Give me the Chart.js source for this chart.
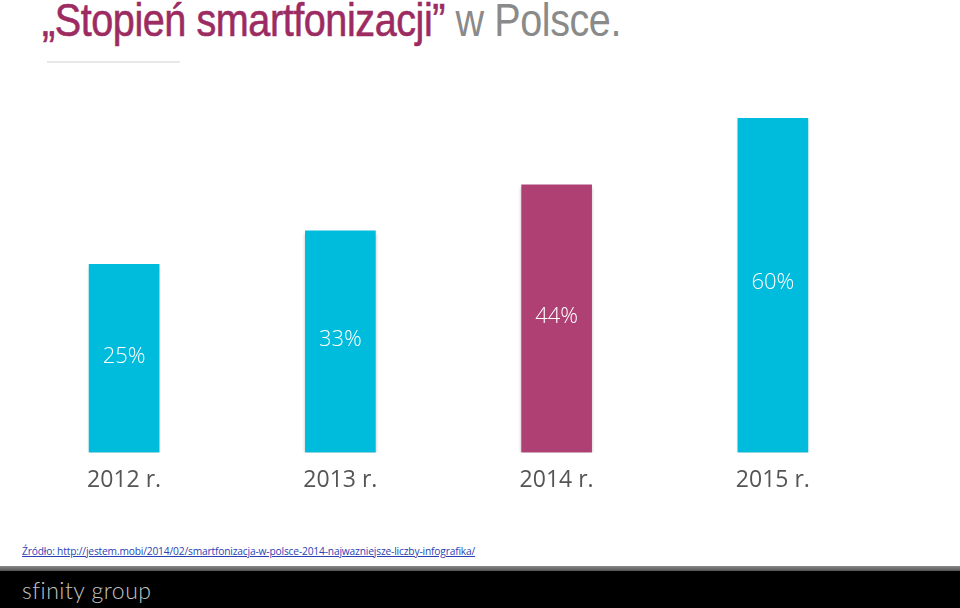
<!DOCTYPE html>
<html lang="pl">
<head>
<meta charset="utf-8">
<script src="https://cdn.jsdelivr.net/npm/chart.js@4"></script>
<style>
  html, body { margin: 0; padding: 0; background: #fff; }
  body { width: 960px; height: 608px; position: relative; overflow: hidden; font-family: "Open Sans", sans-serif; }
  #title {
    position: absolute; left: 42px; top: -7px; white-space: nowrap;
    font-family: "Liberation Sans", sans-serif;
    font-size: 46px; color: #8a8a8a; letter-spacing: -0.5px;
    transform: scaleX(0.86); transform-origin: left top;
  }
  #title .accent { color: #9c2b62; -webkit-text-stroke: 0.6px #9c2b62; }
  #rule { position: absolute; left: 47px; top: 61px; width: 133px; height: 2px; background: #e8e8e8; }
  #chartBox { position: absolute; left: 0; top: 0; width: 960px; height: 500px; }
  #source {
    position: absolute; left: 22px; top: 543px; font-size: 11.5px; color: #2b3fb3;
    text-decoration: underline; white-space: nowrap; letter-spacing: -0.2px;
    transform: scaleX(0.89); transform-origin: left top;
  }
  #footer { position: absolute; left: 0; top: 566px; width: 960px; height: 42px; background: #000; }
  #footer .band { height: 5px; background: linear-gradient(#8a8a8a, #555); }
  #logo {
    position: absolute; left: 22px; top: 10px; color: #c4c4c4;
    font-family: "Lato", sans-serif; font-weight: 300; font-size: 23px; letter-spacing: 0.5px;
  }
</style>
</head>
<body>
<div id="title"><span class="accent">„Stopień smartfonizacji”</span> w Polsce.</div>
<div id="rule"></div>
<div id="chartBox"><canvas id="smartChart"></canvas></div>
<div id="source">Źródło: http://jestem.mobi/2014/02/smartfonizacja-w-polsce-2014-najwazniejsze-liczby-infografika/</div>
<div id="footer"><div class="band"></div><div id="logo">sfinity group</div></div>

<script>
// dane wykresu
const years = ['2012 r.', '2013 r.', '2014 r.', '2015 r.'];
const shares = [25, 33, 44, 60];
const barColors = ['#00bcdc', '#00bcdc', '#ae4074', '#00bcdc'];

// etykiety wartości w środku słupków
const valueLabels = {
  id: 'valueLabels',
  afterDatasetsDraw(chart) {
    const ctx = chart.ctx;
    const meta = chart.getDatasetMeta(0);
    ctx.save();
    ctx.fillStyle = '#ffffff';
    ctx.font = '300 22px "Open Sans"';
    ctx.textAlign = 'center';
    ctx.textBaseline = 'middle';
    meta.data.forEach((bar, i) => {
      ctx.fillText(shares[i] + '%', bar.x, (bar.y + bar.base) / 2 - 2);
    });
    ctx.restore();
  }
};

// lekki cień pod słupkami
const barShadow = {
  id: 'barShadow',
  beforeDatasetsDraw(chart) {
    const ctx = chart.ctx;
    ctx.save();
    ctx.shadowColor = 'rgba(0,0,0,0.25)';
    ctx.shadowBlur = 3;
    ctx.shadowOffsetY = 2;
  },
  afterDatasetsDraw(chart) {
    chart.ctx.restore();
  }
};

const canvas = document.getElementById('smartChart');
new Chart(canvas, {
  type: 'bar',
  data: {
    labels: years,
    datasets: [{
      data: shares,
      backgroundColor: barColors,
      borderWidth: 0,
      barThickness: 70,
      base: -20
    }]
  },
  options: {
    responsive: true,
    maintainAspectRatio: false,
    animation: false,
    layout: { padding: { top: 118, left: 16, right: 79, bottom: 0 } },
    plugins: { legend: { display: false }, tooltip: { enabled: false } },
    scales: {
      x: {
        grid: { display: false },
        border: { display: false },
        ticks: { color: '#555555', font: { family: 'Open Sans', size: 23 }, padding: 6 }
      },
      y: {
        display: false,
        min: -20,
        max: 60
      }
    }
  },
  plugins: [barShadow, valueLabels]
});
</script>
</body>
</html>
